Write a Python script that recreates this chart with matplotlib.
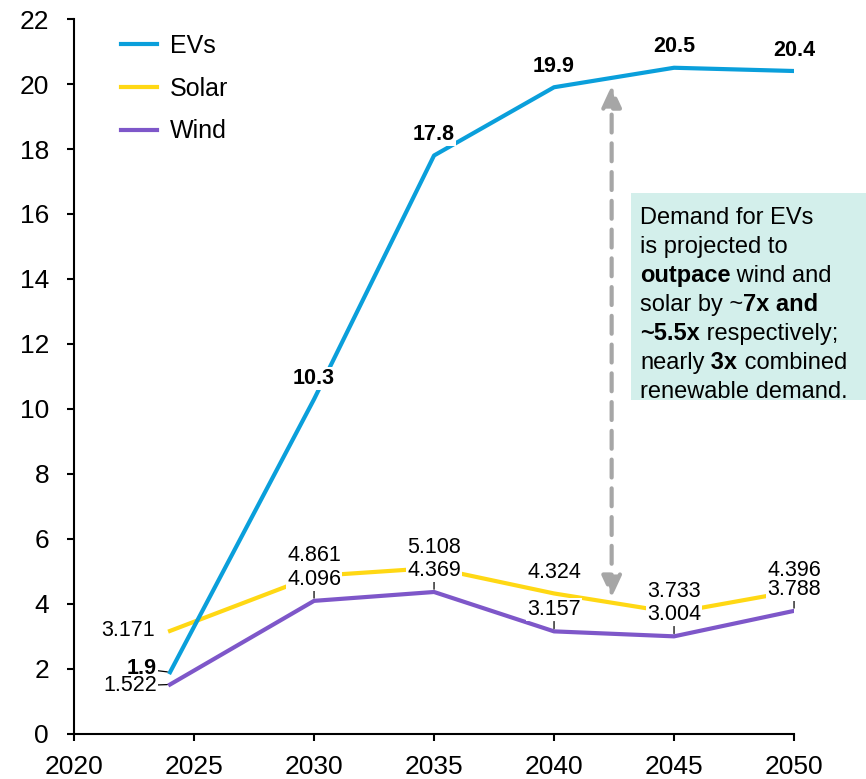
import matplotlib
matplotlib.use('Agg')
import matplotlib.pyplot as plt
from matplotlib.patches import Rectangle
from matplotlib.text import Annotation

plt.rcParams['font.family'] = ['Liberation Sans', 'DejaVu Sans']

# Data
years = [2024, 2030, 2035, 2040, 2045, 2050]
evs = [1.9, 10.3, 17.8, 19.9, 20.5, 20.4]
solar = [3.171, 4.861, 5.108, 4.324, 3.733, 4.396]
wind = [1.522, 4.096, 4.369, 3.157, 3.004, 3.788]
ev_labels = ['1.9', '10.3', '17.8', '19.9', '20.5', '20.4']
solar_labels = ['3.171', '4.861', '5.108', '4.324', '3.733', '4.396']
wind_labels = ['1.522', '4.096', '4.369', '3.157', '3.004', '3.788']

c_ev = '#0A9FDB'
c_solar = '#FFD814'
c_wind = '#7E57C9'
c_arrow = '#A6A6A6'

fig = plt.figure(figsize=(8.66, 7.79), dpi=100)
ax = fig.add_axes([0.0855, 0.0578, 0.8314, 0.9178])

l_wind, = ax.plot(years, wind, color=c_wind, lw=3, label='Wind', zorder=3)
l_solar, = ax.plot(years, solar, color=c_solar, lw=3, label='Solar', zorder=3)
l_ev, = ax.plot(years, evs, color=c_ev, lw=3, label='EVs', zorder=4)

ax.set_xlim(2020, 2050)
ax.set_ylim(0, 22)
ax.set_xticks(range(2020, 2051, 5))
ax.set_yticks(range(0, 23, 2))
for s in ['top', 'right']:
    ax.spines[s].set_visible(False)
for s in ['left', 'bottom']:
    ax.spines[s].set_linewidth(1.5)
ax.tick_params(direction='out', length=5, width=1.5, labelsize=19)
ax.tick_params(axis='y', pad=13)
ax.tick_params(axis='x', pad=10)

leg = ax.legend(handles=[l_ev, l_solar, l_wind], loc='upper left',
                bbox_to_anchor=(121 / 866, 1 - 34 / 779), bbox_transform=fig.transFigure,
                frameon=False, fontsize=18, handlelength=1.45, handletextpad=0.5,
                labelspacing=0.75, borderpad=0, borderaxespad=0)

box = dict(boxstyle='square,pad=0.05', fc='white', ec='none')


def label(txt, x, y, dx, dy, ha='center', bold=False, leader=False):
    ap = None
    if leader:
        ap = dict(arrowstyle='-', lw=0.9, color='black', shrinkA=0, shrinkB=2)
    ax.annotate(txt, xy=(x, y), xytext=(dx, dy), textcoords='offset points',
                ha=ha, va='center', fontsize=15.5,
                fontweight='bold' if bold else 'normal',
                bbox=box, arrowprops=ap, zorder=6, annotation_clip=False)


for i, yr in enumerate(years):
    if i == 0:
        label(ev_labels[i], yr, evs[i], -9.5, 2.5, ha='right', bold=True, leader=True)
        label(solar_labels[i], yr, solar[i], -11, 0, ha='right')
        label(wind_labels[i], yr, wind[i], -9.5, -1, ha='right', leader=True)
    else:
        label(ev_labels[i], yr, evs[i], 0, 15, bold=True)
        label(solar_labels[i], yr, solar[i], 0, 15)
        label(wind_labels[i], yr, wind[i], 0, 15.5, leader=True)

# dashed double arrow between EVs and solar
ax.annotate('', xy=(2042.4, 19.95), xytext=(2042.4, 4.2),
            arrowprops=dict(arrowstyle='<|-|>,head_length=1.3,head_width=0.6',
                            color=c_arrow, lw=3, linestyle=(0, (4.3, 2.6)),
                            shrinkA=0, shrinkB=0, mutation_scale=10),
            zorder=5)

# callout box
fig.patches.append(Rectangle((631 / 866, 1 - 400 / 779), 1 - 631 / 866, 207 / 779,
                             transform=fig.transFigure, fc='#D3EFEB', ec='none', zorder=1))

lines = [
    [('Demand for EVs', False)],
    [('is projected to', False)],
    [('outpace', True), (' wind and', False)],
    [('solar by ~', False), ('7x and', True)],
    [('~5.5x', True), (' respectively;', False)],
    [('nearly', False), (' 3x', True), (' combined', False)],
    [('renewable demand.', False)],
]
for i, parts in enumerate(lines):
    yb = 1 - (229 + 29 * i) / 779
    prev = None
    for txt, b in parts:
        w = 'bold' if b else 'normal'
        if prev is None:
            prev = fig.text(640 / 866, yb, txt, fontsize=17, fontweight=w,
                            ha='left', va='bottom', zorder=7)
        else:
            prev = fig.add_artist(Annotation(txt, xy=(1, 0), xycoords=prev, fontsize=17,
                                             fontweight=w, ha='left', va='bottom',
                                             annotation_clip=False))
            prev.set_zorder(7)

fig.savefig('out.png', dpi=100)
